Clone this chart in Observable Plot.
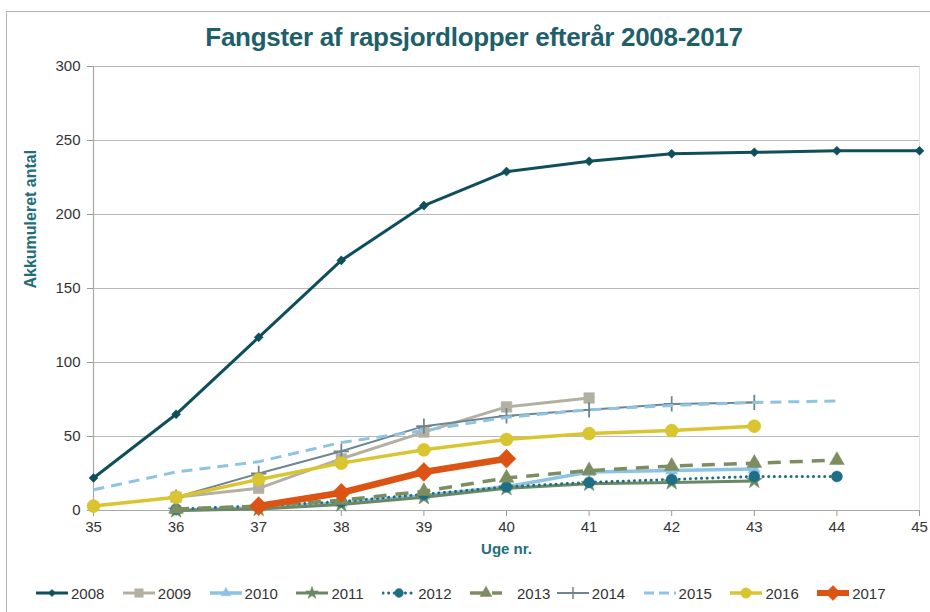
<!DOCTYPE html>
<html>
<head>
<meta charset="utf-8">
<script src="https://cdn.jsdelivr.net/npm/d3@7"></script>
<script src="https://cdn.jsdelivr.net/npm/@observablehq/plot@0.6"></script>
<style>
  html, body { margin: 0; padding: 0; background: #fff; }
  #wrap { position: relative; width: 930px; height: 612px; overflow: hidden; font-family: "Liberation Sans", Arial, sans-serif; }
  #frame { position: absolute; left: 6px; top: 11px; width: 960px; height: 640px; border: 1.5px solid #b4b4b4; box-sizing: border-box; }
  #title { position: absolute; left: 0; width: 948px; top: 22px; text-align: center; font-size: 26px; font-weight: bold; color: #1e5f6a; letter-spacing: -0.3px; }
  #chart { position: absolute; left: 0; top: 50px; }
  #legend { position: absolute; left: 0; top: 582px; width: 930px; height: 22px; }
  .li { position: absolute; top: 0; height: 22px; display: flex; align-items: center; font-size: 15px; color: #333; }
  .li span { margin-left: 2px; }
</style>
</head>
<body>
<div id="wrap">
  <div id="frame"></div>
  <div id="title">Fangster af rapsjordlopper efterår 2008-2017</div>
  <div id="chart"></div>
  <div id="legend"></div>
</div>
<script>
const weeks = [35, 36, 37, 38, 39, 40, 41, 42, 43, 44, 45];
const years = ["2008", "2009", "2010", "2011", "2012", "2013", "2014", "2015", "2016", "2017"];
const v2008 = [22, 65, 117, 169, 206, 229, 236, 241, 242, 243, 243];
const v2009 = [null, 9, 15, 35, 53, 70, 76, null, null, null, null];
const v2010 = [null, 0, 2, 5, 10, 16, 26, 27, 28, null, null];
const v2011 = [null, 0, 1, 4, 9, 15, 18, 19, 20, null, null];
const v2012 = [null, 1, 3, 6, 11, 16, 19, 21, 23, 23, null];
const v2013 = [null, 1, 3, 7, 13, 22, 27, 30, 32, 34, null];
const v2014 = [null, 9, 25, 40, 57, 64, 68, 72, 73, null, null];
const v2015 = [14, 26, 33, 46, 54, 63, 68, 71, 73, 74, null];
const v2016 = [3, 9, 21, 32, 41, 48, 52, 54, 57, null, null];
const v2017 = [null, null, 3, 12, 26, 35, null, null, null, null, null];
const yTicks = [0, 50, 100, 150, 200, 250, 300];
const xTicks = weeks;

const values = [v2008, v2009, v2010, v2011, v2012, v2013, v2014, v2015, v2016, v2017];

const styles = {
  "2008": {color: "#0e4f5b", width: 3, dash: null, symbol: "square", rot: 45, r: 3.6, fill: true},
  "2009": {color: "#b3b0a3", width: 3, dash: null, symbol: "square", r: 6, fill: true},
  "2010": {color: "#8cc3e2", width: 3.5, dash: null, symbol: "triangle", r: 4.5, fill: true},
  "2011": {color: "#6b8863", width: 3, dash: null, symbol: "star", r: 5, fill: true},
  "2012": {color: "#1e6f86", width: 3, dash: "0.1,5.5", symbol: "circle", r: 5.5, fill: true, cap: "round"},
  "2013": {color: "#7d8d61", width: 3.5, dash: "13,9", symbol: "triangle", r: 5.5, fill: true},
  "2014": {color: "#6f8591", width: 2, dash: null, symbol: "plus", r: 5, fill: false},
  "2015": {color: "#8ec3e2", width: 3, dash: "11,7", symbol: null},
  "2016": {color: "#d8c52f", width: 3.5, dash: null, symbol: "circle", r: 6.5, fill: true},
  "2017": {color: "#db5414", width: 6.5, dash: null, symbol: "square", rot: 45, r: 7.5, fill: true}
};

const table = [];
years.forEach((yr, i) => {
  weeks.forEach((w, j) => {
    const v = values[i][j];
    if (v !== null) table.push({year: yr, week: w, value: v});
  });
});

const marks = [
  Plot.ruleY(yTicks.filter(d => d > 0), {stroke: "#b9b9b9", strokeWidth: 1.2, strokeOpacity: 1}),
  Plot.ruleX([45], {stroke: "#d6e3ea", strokeWidth: 1}),
  Plot.axisY({ticks: yTicks, tickSize: 6, tickPadding: 7, fontSize: 15, stroke: "#999", color: "#333", label: null}),
  Plot.axisX({ticks: xTicks, tickSize: 6, tickPadding: 5, fontSize: 15, stroke: "#999", color: "#333", label: null, tickFormat: d => String(d)}),
  Plot.ruleX([35], {stroke: "#a8a8a8", strokeWidth: 1.2}),
  Plot.ruleY([0], {stroke: "#a8a8a8", strokeWidth: 1.2})
];

years.forEach(yr => {
  const s = styles[yr];
  const d = table.filter(r => r.year === yr);
  marks.push(Plot.line(d, {x: "week", y: "value", stroke: s.color, strokeWidth: s.width,
    strokeDasharray: s.dash || undefined, strokeLinecap: s.cap || "butt", strokeLinejoin: "round"}));
  if (s.symbol) {
    marks.push(Plot.dot(d, {x: "week", y: "value", symbol: () => s.symbol, r: s.r, rotate: s.rot || 0,
      fill: s.fill ? s.color : "none", stroke: s.color, strokeWidth: s.fill ? 0.5 : 1.8}));
  }
});

const chart = Plot.plot({
  width: 930,
  height: 520,
  marginLeft: 93,
  marginRight: 11,
  marginTop: 16,
  marginBottom: 60,
  style: {fontFamily: "'Liberation Sans', Arial, sans-serif", background: "transparent", overflow: "visible"},
  x: {domain: [35, 45]},
  y: {domain: [0, 300]},
  symbol: {type: "identity"},
  marks: [
    ...marks,
    Plot.text(["Uge nr."], {frameAnchor: "bottom", dy: 43, fontSize: 15, fontWeight: "bold", fill: "#1f6e7c"}),
    Plot.text(["Akkumuleret antal"], {frameAnchor: "left", dx: -63, rotate: -90, fontSize: 16, fontWeight: "bold", fill: "#1f6e7c"})
  ]
});
document.getElementById("chart").appendChild(chart);

// legend
const legend = document.getElementById("legend");
const symMap = {square: d3.symbolSquare, triangle: d3.symbolTriangle,
  star: d3.symbolStar, circle: d3.symbolCircle, plus: d3.symbolPlus};
years.forEach((yr, i) => {
  const s = styles[yr];
  const item = document.createElement("div");
  item.className = "li";
  item.style.left = (35 + i * 86.8) + "px";
  const ns = "http://www.w3.org/2000/svg";
  const svg = document.createElementNS(ns, "svg");
  svg.setAttribute("width", yr === "2013" ? 46 : 34);
  svg.setAttribute("height", 22);
  const line = document.createElementNS(ns, "line");
  line.setAttribute("x1", 1); line.setAttribute("x2", 33);
  line.setAttribute("y1", 11); line.setAttribute("y2", 11);
  line.setAttribute("stroke", s.color);
  line.setAttribute("stroke-width", Math.min(s.width, 6));
  if (s.dash) line.setAttribute("stroke-dasharray", yr === "2013" ? "13,9" : (yr === "2012" ? "0.1,5.5" : "10,5"));
  if (s.cap) line.setAttribute("stroke-linecap", s.cap);
  svg.appendChild(line);
  if (s.symbol) {
    const p = document.createElementNS(ns, "path");
    const area = Math.PI * (s.r * 0.8) * (s.r * 0.8);
    p.setAttribute("d", d3.symbol(symMap[s.symbol], area)());
    p.setAttribute("transform", "translate(17,11) rotate(" + (s.rot || 0) + ")");
    p.setAttribute("fill", s.fill ? s.color : "none");
    p.setAttribute("stroke", s.color);
    p.setAttribute("stroke-width", s.fill ? 0.5 : 1.5);
    svg.appendChild(p);
  }
  item.appendChild(svg);
  const t = document.createElement("span");
  t.textContent = yr;
  item.appendChild(t);
  legend.appendChild(item);
});
</script>
</body>
</html>
